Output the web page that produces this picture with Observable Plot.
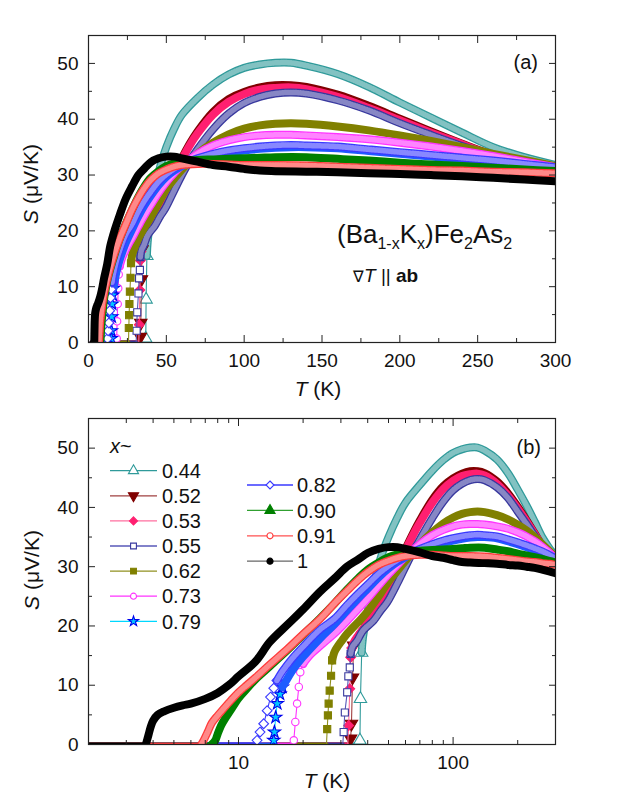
<!DOCTYPE html>
<html><head><meta charset="utf-8">
<script src="https://cdn.jsdelivr.net/npm/d3@7"></script>
<script src="https://cdn.jsdelivr.net/npm/@observablehq/plot@0.6"></script>
<style>
body{margin:0;background:#fff;}
#wrap{position:relative;width:623px;height:806px;font-family:"Liberation Sans",Arial,sans-serif;}
#wrap svg{position:absolute;left:0;overflow:visible;}
</style></head><body><div id="wrap"></div>
<script>
// ---------------- data ----------------
const xLabels = ["0.44","0.52","0.53","0.55","0.62","0.73","0.79","0.82","0.90","0.91","1"];

const T_044 = [2,10,20,30,36.6,36.8,37.0,37.5,38,40,43,46,50,55,60,70,80,90,100,110,120,130,140,160,180,200,220,240,260,280,300];
const S_044 = [0,0,0,0,0,0.7,7.7,15.5,18,22.5,27.5,31.5,35,38.3,40.8,43.8,46.2,48,49.2,49.8,50.1,50.1,49.6,48.1,45.8,43,40.3,37.6,35,33.2,31.8];

const T_052 = [2,10,20,30,33.0,33.3,33.6,34.0,34.4,35.5,37,40,45,50,55,60,65,70,80,90,100,110,120,130,140,160,180,200,220,240,260,280,300];
const S_052 = [0,0,0,0,0,1,3.5,11.3,16.7,17.8,18.8,20.5,23.5,26.5,30,33,35.6,37.8,41.3,43.6,44.9,45.7,46.1,46.1,45.8,44.4,42.4,40.1,37.8,35.6,33.6,32.3,31.4];

const T_053 = [2,10,20,30,32.3,32.6,33.0,33.3,33.7,34.5,36,40,45,50,55,60,65,70,80,90,100,110,120,130,140,160,180,200,220,240,260,280,300];
const S_053 = [0,0,0,0,0,3.2,9.4,14.7,16.3,17.3,18.3,20.6,23.6,26.6,30,32.8,35.3,37.4,40.8,43.1,44.5,45.3,45.6,45.7,45.4,44,42,39.8,37.6,35.5,33.5,32.3,31.5];

const T_055 = [2,10,20,30.6,30.9,31.3,32.1,32.5,33.0,33.3,34,35.7,38,42.6,46,49.3,55,60,65,70,80,90,100,110,120,130,140,160,180,200,220,240,260,280,300];
const S_055 = [0,0,0,0,2.1,5.4,8.8,11.5,13,15.3,16.5,17.5,19.2,20.9,22.6,24,27.2,30,32.5,34.6,38.2,41,42.9,44,44.6,44.8,44.6,43.4,41.6,39.3,37.2,35.2,33.4,32.2,31.5];

const T_062 = [2,10,20,25.7,25.9,26.1,26.3,26.6,27.0,27.3,28,28.8,30,32.1,36,39.7,45,50,55,60,70,80,90,100,110,120,130,140,160,180,200,220,240,260,280,300];
const S_062 = [0,0,0,0,2.6,4.9,6.9,9.1,11.6,14.2,15.6,16.4,17.3,18.7,20.6,22.3,25,27.5,29.3,31,33.8,35.8,37.3,38.3,38.9,39.2,39.3,39.2,38.7,38.0,37.1,36.1,35.0,33.8,32.7,31.6];

const T_073 = [2,10,16,17.9,18.1,18.4,18.75,19.1,19.4,20,21,22,24,26,28,32,36,40,45,50,55,60,70,80,90,100,110,120,130,140,160,180,200,220,240,260,280,300];
const S_073 = [0,0,0,0,0.7,3.8,6.9,9.7,12.2,13.6,14.6,15.4,16.6,17.7,18.7,20.8,22.8,24.6,26.8,28.7,30.3,31.7,33.8,35.3,36.2,36.8,37.1,37.2,37.2,37.1,36.8,36.4,35.8,35.1,34.3,33.4,32.4,31.4];

const T_079 = [2,8,12,14.5,14.6,14.7,14.9,15.15,15.6,16,17,18,20,24,28,32,36,40,45,50,55,60,70,80,90,100,110,120,130,140,160,180,200,220,240,260,280,300];
const S_079 = [0,0,0,0,0.7,2.1,4.6,6.9,8.5,9.7,11.3,12.7,14.8,17.9,20.3,22.6,24.6,26.3,28.2,29.7,30.8,31.6,32.7,33.5,34.0,34.4,34.7,34.9,35.0,35.0,34.8,34.3,33.8,33.3,32.8,32.3,31.8,31.3];

const T_082 = [2,6,10,12.0,12.2,12.6,13.1,13.6,14.1,14.6,15.1,16,18,20,24,28,32,36,40,45,50,55,60,70,80,90,100,110,120,130,140,160,180,200,220,240,260,280,300];
const S_082 = [0,0,0,0,0.7,2.1,3.5,5.7,8,9.5,10.8,12.3,14.7,16.5,19.4,21.2,23.5,25.4,27,28.8,30.1,31.1,31.9,33,33.8,34.4,34.8,35.1,35.3,35.4,35.3,35.1,34.6,34.1,33.6,33.1,32.6,32.0,31.4];

const T_090 = [2,4,6,7.5,7.8,8.0,8.3,8.6,9.2,10,11,12,14,17,20,24,28,32,36,40,45,50,55,60,70,80,90,100,110,120,140,160,180,200,220,240,260,280,300];
const S_090 = [0,0,0,0,0.7,1.8,3.2,4.2,5.8,7.8,9.5,11,13.2,16,18.5,21.3,23.8,26.1,28,29.5,30.7,31.6,32.1,32.4,32.7,32.8,32.9,33.0,33.1,33.2,33.2,32.9,32.6,32.2,31.9,31.6,31.3,31.0,30.7];

const T_091 = [2,4,6,6.7,6.9,7.2,7.5,8.0,8.5,9.2,10,11,12,14,17,20,24,28,32,36,40,45,50,55,60,70,80,90,100,110,120,140,160,180,200,220,240,260,280,300];
const S_091 = [0,0,0,0,0.8,2.2,3.6,4.9,6.0,7.4,8.8,10.1,11.3,13.5,16.2,18.6,21.2,23.8,25.9,27.7,29.1,30.3,31.0,31.5,31.8,32.0,32.0,31.9,31.8,31.8,31.8,31.7,31.5,31.3,31.1,30.9,30.8,30.6,30.5,30.3];

const T_100 = [2,3,3.7,3.8,3.9,4.0,4.2,4.5,5,5.5,6,7,8,9,10,12,14,17,20,24,28,32,36,40,45,50,55,60,70,80,90,100,110,120,140,160,180,200,220,240,260,280,300];
const S_100 = [0,0,0,1.5,3,4,5,5.6,6.2,6.6,6.9,7.7,8.7,10,11.5,14,17.3,20.3,22.8,25.8,28.0,30.0,31.2,32.3,33.0,33.3,33.3,33.0,32.4,31.8,31.5,31.1,30.8,30.7,30.6,30.5,30.3,30.2,30.0,29.8,29.5,29.2,28.9];

// temperature above which the markers merge into a dense band
const bandStartT = [37.5,34.4,33.7,33.3,27.3,20,16,15.1,7.5,6.7,3.7];

const Ts = [T_044,T_052,T_053,T_055,T_062,T_073,T_079,T_082,T_090,T_091,T_100];
const Ss = [S_044,S_052,S_053,S_055,S_062,S_073,S_079,S_082,S_090,S_091,S_100];

// tick values
const xTicksA = [0,50,100,150,200,250,300];
const xMinorA = [25,75,125,175,225,275];
const xTicksB = [10,100];
const xMinorB = [2,3,4,5,6,7,8,9,20,30,40,50,60,70,80,90,200,300];
const yTicks = [0,10,20,30,40,50];
const yMinor = [5,15,25,35,45];

// ---------------- styles ----------------
const styles = [
  {color:"#2f9a9a", line:"#2f9a9a", symbol:"triangle", open:true, r:4.6},
  {color:"#800000", line:"#a04040", symbol:"triangle", open:false, r:4.6, rotate:180},
  {color:"#ff1f70", line:"#ff6f9f", symbol:"diamond2", open:false, r:4.4},
  {color:"#38389e", line:"#5858b8", symbol:"square", open:true, r:4.0},
  {color:"#808000", line:"#909020", symbol:"square", open:false, r:4.0},
  {color:"#ff33ff", line:"#ff33ff", symbol:"circle", open:true, r:3.7},
  {color:"#1e5cff", line:"#00d8ff", symbol:"star", open:false, r:3.9, fill:"#00c8ff", stroke:"#0000ee"},
  {color:"#3a3aff", line:"#3a3aff", symbol:"diamond2", open:true, r:4.4},
  {color:"#008000", line:"#30a030", symbol:"triangle", open:false, r:4.6},
  {color:"#ff3b3b", line:"#ff5050", symbol:"circle", open:true, r:3.7},
  {color:"#000000", line:"#666666", symbol:"circle", open:false, r:3.7}
];

const series = xLabels.map((lab, i) => {
  const pts = Ts[i].map((t, j) => ({T: t, S: Ss[i][j]}));
  let lastZero = 0;
  pts.forEach((p, j) => { if (p.S === 0) lastZero = j; });
  const st = styles[i];
  const bs = bandStartT[i];
  return {
    label: lab, ...st,
    fillC: st.fill || (st.open ? "white" : st.color),
    strokeC: st.stroke || st.color,
    all: pts,
    zero: pts.slice(0, lastZero + 1),
    trans: pts.filter(p => p.S > 0 && p.T <= bs),
    band: pts.filter(p => p.T >= bs)
  };
});

const FONT = "Liberation Sans, Arial, sans-serif";

function dataMarks() {
  const m = [];
  series.forEach(s => m.push(Plot.line(s.zero, {x:"T", y:"S", stroke:s.color, strokeWidth:4, clip:true})));
  series.forEach(s => {
    m.push(Plot.line(s.all, {x:"T", y:"S", stroke:s.line, strokeWidth:1.1, clip:true}));
    m.push(Plot.dot(s.trans, {x:"T", y:"S", symbol:s.symbol, r:s.r, fill:s.fillC, stroke:s.strokeC, strokeWidth:1.1, rotate:s.rotate || 0, clip:true}));
    m.push(Plot.line(s.band, {x:"T", y:"S", stroke:s.color, strokeWidth:8, curve:"catmull-rom", strokeLinecap:"round", strokeLinejoin:"round", clip:true}));
    if (s.open) m.push(Plot.line(s.band, {x:"T", y:"S", stroke:"white", strokeWidth:5.5, strokeOpacity:0.4, strokeDasharray:"1,1.6", curve:"catmull-rom", clip:true}));
  });
  return m;
}

function axisMarks(xMaj, xMin, xLab) {
  return [
    Plot.axisX({anchor:"bottom", ticks:xMaj, tickSize:-7, fill:"none", stroke:"#222"}),
    Plot.axisX({anchor:"bottom", ticks:xMin, tickSize:-4, fill:"none", stroke:"#222"}),
    Plot.axisX({anchor:"top", ticks:xMaj, tickSize:-7, fill:"none", stroke:"#222"}),
    Plot.axisX({anchor:"top", ticks:xMin, tickSize:-4, fill:"none", stroke:"#222"}),
    Plot.axisY({anchor:"left", ticks:yTicks, tickSize:-7, fill:"none", stroke:"#222"}),
    Plot.axisY({anchor:"left", ticks:yMinor, tickSize:-4, fill:"none", stroke:"#222"}),
    Plot.axisY({anchor:"right", ticks:yTicks, tickSize:-7, fill:"none", stroke:"#222"}),
    Plot.axisY({anchor:"right", ticks:yMinor, tickSize:-4, fill:"none", stroke:"#222"}),
    Plot.axisX({anchor:"bottom", ticks:xLab, tickSize:0, tickPadding:11, label:null, tickFormat:d => String(d), fill:"#111", fontSize:19}),
    Plot.axisY({anchor:"left", ticks:yTicks, tickSize:0, tickPadding:10, label:null, tickFormat:d => String(d), fill:"#111", fontSize:19}),
    Plot.frame({stroke:"#222", strokeWidth:1.2})
  ];
}

const common = {width:623, marginLeft:88, marginRight:68, style:{fontFamily:FONT, fontSize:"19px", color:"#111", background:"transparent", overflow:"visible"}};

const chartA = Plot.plot({
  ...common, height:400, marginTop:35, marginBottom:58,
  x:{type:"linear", domain:[0,300]},
  y:{domain:[0,55]},
  marks:[...dataMarks(), ...axisMarks(xTicksA, xMinorA, xTicksA)]
});
const chartB = Plot.plot({
  ...common, height:406, marginTop:18, marginBottom:62,
  x:{type:"log", domain:[2,300]},
  y:{domain:[0,55]},
  marks:[...dataMarks(), ...axisMarks(xTicksB, xMinorB, xTicksB)]
});

const wrap = document.getElementById("wrap");
chartA.style.top = "0px";
chartB.style.top = "400px";
wrap.appendChild(chartA);
wrap.appendChild(chartB);

// ---------------- text annotations ----------------
function addText(svg, x, y, parts, opts = {}) {
  const t = d3.select(svg).append("text")
    .attr("x", x).attr("y", y)
    .attr("font-family", FONT)
    .attr("font-size", opts.size || 19)
    .attr("fill", "#111")
    .attr("text-anchor", opts.anchor || "start");
  if (opts.transform) t.attr("transform", opts.transform).attr("x", 0).attr("y", 0);
  parts.forEach(p => {
    const ts = t.append("tspan").text(p.t);
    if (p.i) ts.attr("font-style", "italic");
    if (p.b) ts.attr("font-weight", "bold");
    if (p.size) ts.attr("font-size", p.size);
    if (p.dy) ts.attr("dy", p.dy);
  });
  return t;
}

// panel (a)
addText(chartA, 0, 0, [{t:"S", i:true}, {t:" (\u03bcV/K)"}], {size:21, anchor:"middle", transform:"translate(38,184) rotate(-90)"});
addText(chartA, 318, 396, [{t:"T", i:true}, {t:" (K)"}], {size:21, anchor:"middle"});
addText(chartA, 538, 69, [{t:"(a)"}], {size:20, anchor:"end"});
addText(chartA, 337, 243, [
  {t:"(Ba"}, {t:"1-x", size:16, dy:6}, {t:"K", dy:-6}, {t:"x", size:16, dy:6},
  {t:")Fe", dy:-6}, {t:"2", size:16, dy:6}, {t:"As", dy:-6}, {t:"2", size:16, dy:6}
], {size:26});
addText(chartA, 353, 282, [{t:"\u2207", size:16}, {t:"T", i:true}, {t:" || "}, {t:"ab", b:true}], {size:19});

// panel (b)
addText(chartB, 0, 0, [{t:"S", i:true}, {t:" (\u03bcV/K)"}], {size:21, anchor:"middle", transform:"translate(39,170) rotate(-90)"});
addText(chartB, 327, 388, [{t:"T", i:true}, {t:" (K)"}], {size:21, anchor:"middle"});
addText(chartB, 541, 54, [{t:"(b)"}], {size:20, anchor:"end"});
addText(chartB, 110, 53, [{t:"x", i:true}, {t:"~"}], {size:20});

// legend (panel b)
const symType = {triangle:d3.symbolTriangle, circle:d3.symbolCircle, square:d3.symbolSquare, diamond2:d3.symbolDiamond2, star:d3.symbolStar};
const lg = d3.select(chartB).append("g").attr("text-anchor", "start");
series.forEach((s, i) => {
  const col = i < 7 ? 0 : 1;
  const k = col === 0 ? i : i - 7;
  const cy = col === 0 ? 70.7 + k * 25.1 : 85 + k * 25.4;
  const x0 = col === 0 ? 110 : 247, x1 = col === 0 ? 157 : 293;
  const cx = (x0 + x1) / 2;
  const rl = s.r * 0.82;
  lg.append("line").attr("x1", x0).attr("x2", x1).attr("y1", cy).attr("y2", cy)
    .attr("stroke", s.line).attr("stroke-width", 1.3);
  lg.append("path").attr("d", d3.symbol(symType[s.symbol], Math.PI * rl * rl)())
    .attr("transform", `translate(${cx},${cy}) rotate(${s.rotate || 0})`)
    .attr("fill", s.fillC).attr("stroke", s.strokeC).attr("stroke-width", 1.1);
  lg.append("text").attr("x", col === 0 ? 162 : 297).attr("y", cy).attr("dy", "0.36em")
    .attr("text-anchor", "start")
    .attr("font-family", FONT).attr("font-size", 20).attr("fill", "#111").text(s.label);
});
</script></body></html>
